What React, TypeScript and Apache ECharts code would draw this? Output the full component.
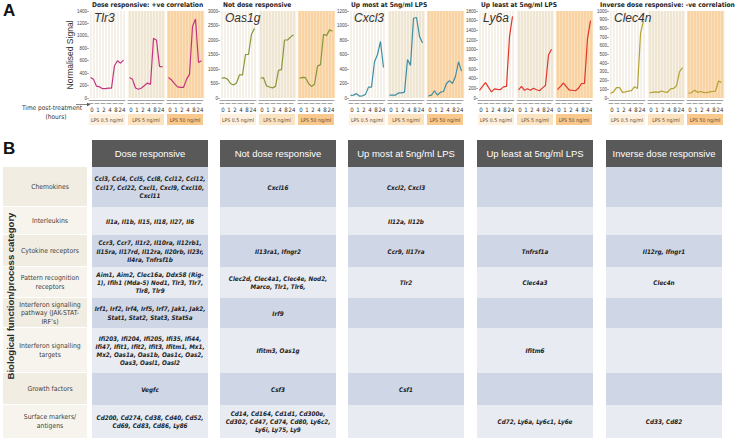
import React, { useEffect, useRef } from 'react';
import * as echarts from 'echarts';

// ---------- Panel A data ----------
const timeLabels = ['0', '1', '2', '4', '8', '24'];
const sampleIds = ['0a', '0b', '1a', '1b', '2a', '2b', '4a', '4b', '8a', '8b', '24a', '24b'];
const doseLabels = ['LPS 0.5 ng/ml', 'LPS 5 ng/ml', 'LPS 50 ng/ml'];
const groupTitles = [
  'Dose responsive: +ve correlation',
  'Not dose responsive',
  'Up most at 5ng/ml LPS',
  'Up least at 5ng/ml LPS',
  'Inverse dose responsive: -ve correlation',
];
const geneNames = ['Tlr3', 'Oas1g', 'Cxcl3', 'Ly6a', 'Clec4n'];
const yMax = [1400, 3000, 1200, 1800, 1000];
const yStep = [200, 500, 200, 200, 100];

const tlr3 = [
  [330, 300, 190, 180, 150, 150, 160, 160, 520, 600, 560, 610],
  [330, 300, 160, 140, 160, 200, 240, 220, 960, 930, 510, 500],
  [330, 290, 230, 180, 170, 170, 300, 380, 1150, 1270, 570, 600],
];
const oas1g = [
  [680, 700, 650, 500, 450, 520, 800, 800, 1500, 1500, 2200, 2400],
  [680, 700, 420, 380, 350, 400, 950, 980, 2000, 2000, 2100, 2180],
  [680, 710, 700, 500, 400, 470, 1100, 1150, 2200, 2150, 2350, 2300],
];
const cxcl3 = [
  [35, 40, 60, 25, 30, 50, 150, 150, 500, 600, 780, 420],
  [40, 40, 40, 70, 70, 80, 530, 450, 1100, 1110, 850, 760],
  [30, 40, 100, 40, 80, 90, 200, 240, 200, 300, 500, 370],
];
const ly6a = [
  [160, 240, 320, 220, 125, 190, 180, 175, 230, 240, 1270, 1690],
  [170, 240, 160, 190, 160, 200, 170, 150, 210, 260, 890, 1010],
  [175, 240, 310, 230, 160, 160, 150, 200, 300, 300, 1230, 1600],
];
const clec4n = [
  [55, 70, 120, 120, 65, 70, 80, 85, 130, 110, 740, 890],
  [60, 65, 70, 65, 80, 70, 65, 105, 110, 140, 300, 350],
  [55, 60, 90, 65, 75, 65, 60, 70, 75, 80, 195, 180],
];
const geneData = [tlr3, oas1g, cxcl3, ly6a, clec4n];

// ---------- Panel B data ----------
const columnHeaders = [
  'Dose responsive',
  'Not dose responsive',
  'Up most at 5ng/ml LPS',
  'Up least at 5ng/ml LPS',
  'Inverse dose responsive',
];
const rowLabels = [
  'Chemokines',
  'Interleukins',
  'Cytokine receptors',
  'Pattern recognition\nreceptors',
  'Interferon signalling\npathway (JAK-STAT-\nIRF\u2019s)',
  'Interferon signalling\ntargets',
  'Growth factors',
  'Surface markers/\nantigens',
];
const doseResponsive = [
  'Ccl3, Ccl4, Ccl5, Ccl8, Ccl12, Ccl12,\nCcl17, Ccl22, Cxcl1, Cxcl9, Cxcl10,\nCxcl11',
  'Il1a, Il1b, Il15, Il18, Il27, Il6',
  'Ccr3, Ccr7, Il1r2, Il10ra, Il12rb1,\nIl15ra, Il17rd, Il12ra, Il20rb, Il23r,\nIl4ra, Tnfrsf1b',
  'Aim1, Aim2, Clec16a, Ddx58 (Rig-\n1), Ifih1 (Mda-5) Nod1, Tlr3, Tlr7,\nTlr8, Tlr9',
  'Irf1, Irf2, Irf4, Irf5, Irf7, Jak1, Jak2,\nStat1, Stat2, Stat3, Stat5a',
  'Ifi203, Ifi204, Ifi205, Ifi35, Ifi44,\nIfi47, Ifit1, Ifit2, Ifit3, Ifitm1, Mx1,\nMx2, Oas1a, Oas1b, Oas1c, Oas2,\nOas3, Oasl1, Oasl2',
  'Vegfc',
  'Cd200, Cd274, Cd38, Cd40, Cd52,\nCd69, Cd83, Cd86, Ly86',
];
const notDoseResponsive = [
  'Cxcl16',
  '',
  'Il13ra1, Ifngr2',
  'Clec2d, Clec4a1, Clec4e, Nod2,\nMarco, Tlr1, Tlr6,',
  'Irf9',
  'Ifitm3, Oas1g',
  'Csf3',
  'Cd14, Cd164, Cd1d1, Cd300e,\nCd302, Cd47, Cd74, Cd80, Ly6c2,\nLy6i, Ly75, Ly9',
];
const upMost5 = ['Cxcl2, Cxcl3', 'Il12a, Il12b', 'Ccr9, Il17ra', 'Tlr2', '', '', 'Csf1', ''];
const upLeast5 = ['', '', 'Tnfrsf1a', 'Clec4a3', '', 'Ifitm6', '', 'Cd72, Ly6a, Ly6c1, Ly6e'];
const inverseDose = ['', '', 'Il12rg, Ifngr1', 'Clec4n', '', '', '', 'Cd33, Cd82'];
const tableColumns = [doseResponsive, notDoseResponsive, upMost5, upLeast5, inverseDose];

// ---------- styling / layout ----------
const SANS = "'Liberation Sans', Arial, sans-serif";
const NARROW = "'Liberation Sans Narrow', 'DejaVu Sans Condensed', Roboto, sans-serif";
const geneColors = ['#c2367f', '#86973a', '#3d8ea3', '#e2352a', '#b3a233'];
const doseBg = ['#f4eee4', '#eee3cf', '#f8d09f'];
const doseLine = ['#ffffff', '#f8f2e8', '#fbe0bd'];
const doseBox = ['#fdf0df', '#fbe2c0', '#f8c88c'];
const groupX = [89, 220, 349, 478, 609];
const SUB_W = 36;
const SUB_GAP = 3;
const PLOT_TOP = 11;
const PLOT_H = 87;

const colX = [92, 220, 348, 477, 606];
const COL_W = 116;
const HEAD_TOP = 140;
const HEAD_BOTTOM = 167;
const rowEdges = [167, 207, 235, 267, 298, 328, 373, 405, 438];

function buildOption() {
  const grids: any[] = [];
  const xAxes: any[] = [];
  const yAxes: any[] = [];
  const series: any[] = [];
  const graphics: any[] = [];

  geneNames.forEach((gene, g) => {
    for (let d = 0; d < 3; d++) {
      const k = g * 3 + d;
      const left = groupX[g] + d * (SUB_W + SUB_GAP);
      grids.push({
        left, top: PLOT_TOP, width: SUB_W, height: PLOT_H,
        show: true, backgroundColor: doseBg[d], borderWidth: 0,
      });
      xAxes.push({
        gridIndex: k, type: 'category', data: sampleIds, boundaryGap: true,
        position: 'bottom', offset: 2,
        axisLine: { show: true, onZero: false, lineStyle: { color: '#8a8a8a', width: 0.8 } },
        axisTick: { show: false }, axisLabel: { show: false },
        splitLine: { show: true, interval: 0, lineStyle: { color: doseLine[d], width: 1.3 } },
      });
      xAxes.push({
        gridIndex: k, type: 'category', data: timeLabels, boundaryGap: true,
        position: 'bottom', offset: 5,
        axisLine: { show: true, onZero: false, lineStyle: { color: '#8a8a8a', width: 0.8, type: [4, 2] } },
        axisTick: { show: false },
        axisLabel: { show: true, interval: 0, fontSize: 6, color: '#333', margin: 3, fontFamily: NARROW },
        splitLine: { show: false },
      });
      yAxes.push({
        gridIndex: k, type: 'value', min: 0, max: yMax[g], interval: yStep[g],
        show: d === 0,
        axisLine: { show: false },
        axisTick: { show: true, length: 2, lineStyle: { color: '#777', width: 0.6 } },
        axisLabel: {
          fontSize: 4.5, color: '#444', margin: 2, fontFamily: SANS,
          formatter: (v: number) => String(v),
        },
        splitLine: { show: false },
      });
      series.push({
        type: 'line', xAxisIndex: 2 * k, yAxisIndex: k, data: geneData[g][d],
        symbol: 'none', silent: true, z: 5,
        lineStyle: { color: geneColors[g], width: 1.2 },
      });
      graphics.push({
        type: 'rect', silent: true,
        shape: { x: left, y: 114, width: SUB_W, height: 11 },
        style: { fill: doseBox[d] },
      });
      graphics.push({
        type: 'text', silent: true, z: 50, x: left + SUB_W / 2, y: 119.5,
        style: {
          text: doseLabels[d], fill: '#6b4a2a', fontSize: 5.2, fontFamily: NARROW,
          align: 'center', verticalAlign: 'middle',
        },
      });
    }
    graphics.push({
      type: 'text', silent: true, z: 100, x: groupX[g] + (g === 2 ? 2 : g === 4 ? -9 : 3), y: 5,
      style: {
        text: groupTitles[g], fill: '#222', fontSize: 6.6, fontWeight: 'bold', fontFamily: NARROW,
        align: 'left', verticalAlign: 'middle',
      },
    });
    graphics.push({
      type: 'text', silent: true, z: 100, x: groupX[g] + 5, y: 18,
      style: {
        text: gene, fill: '#333', fontSize: 12, fontStyle: 'italic', fontFamily: SANS,
        align: 'left', verticalAlign: 'middle',
      },
    });
  });

  // Panel A decorations
  graphics.push(
    { type: 'text', silent: true, x: 3, y: 10, style: { text: 'A', fill: '#111', fontSize: 17, fontWeight: 'bold', fontFamily: SANS, verticalAlign: 'middle' } },
    { type: 'text', silent: true, x: 70, y: 55, rotation: Math.PI / 2,
      style: { text: 'Normalised Signal', fill: '#333', fontSize: 8.5, fontFamily: SANS, align: 'center', verticalAlign: 'middle' } },
    { type: 'text', silent: true, x: 52, y: 108,
      style: { text: 'Time post-treatment', fill: '#333', fontSize: 6.5, fontFamily: NARROW, align: 'center', verticalAlign: 'middle' } },
    { type: 'text', silent: true, x: 56, y: 117,
      style: { text: '(hours)', fill: '#333', fontSize: 6.5, fontFamily: NARROW, align: 'center', verticalAlign: 'middle' } },
    { type: 'line', silent: true, shape: { x1: 76, y1: 104.5, x2: 88, y2: 104.5 }, style: { stroke: '#555', lineWidth: 0.7 } },
    { type: 'polygon', silent: true, shape: { points: [[87, 102.8], [90.5, 104.5], [87, 106.2]] }, style: { fill: '#555' } },
    { type: 'text', silent: true, x: 3, y: 148, style: { text: 'B', fill: '#111', fontSize: 17, fontWeight: 'bold', fontFamily: SANS, verticalAlign: 'middle' } },
  );

  // Panel B table
  rowLabels.forEach((lab, r) => {
    const y0 = rowEdges[r];
    const y1 = rowEdges[r + 1];
    graphics.push({
      type: 'rect', silent: true,
      shape: { x: 3, y: y0, width: 84, height: y1 - y0 - (r < rowLabels.length - 1 ? 1 : 0) },
      style: { fill: r % 2 === 0 ? '#f2ede3' : '#f7f4ee' },
    });
    graphics.push({
      type: 'text', silent: true, z: 50, x: 50, y: (y0 + y1) / 2,
      style: {
        text: lab, fill: '#404040', fontSize: 6.8, fontFamily: NARROW, lineHeight: 8.5,
        align: 'center', verticalAlign: 'middle',
      },
    });
  });
  graphics.push({
    type: 'text', silent: true, z: 50, x: 10.5, y: 296, rotation: Math.PI / 2,
    style: {
      text: 'Biological function/process category', fill: '#2b2b2b', fontSize: 9.5,
      fontWeight: 'bold', fontFamily: SANS, align: 'center', verticalAlign: 'middle',
    },
  });

  tableColumns.forEach((col, c) => {
    const x = colX[c];
    graphics.push({
      type: 'rect', silent: true,
      shape: { x, y: HEAD_TOP, width: COL_W, height: HEAD_BOTTOM - HEAD_TOP },
      style: { fill: '#595959' },
    });
    graphics.push({
      type: 'text', silent: true, z: 50, x: x + COL_W / 2, y: (HEAD_TOP + HEAD_BOTTOM) / 2,
      style: {
        text: columnHeaders[c], fill: '#ffffff', fontSize: 9.5, fontFamily: SANS,
        align: 'center', verticalAlign: 'middle',
      },
    });
    col.forEach((txt, r) => {
      const y0 = rowEdges[r];
      const y1 = rowEdges[r + 1];
      graphics.push({
        type: 'rect', silent: true,
        shape: { x, y: y0, width: COL_W, height: y1 - y0 },
        style: { fill: r % 2 === 0 ? '#cfd6e5' : '#e8ebf2' },
      });
      if (txt) {
        graphics.push({
          type: 'text', silent: true, z: 50, x: x + COL_W / 2, y: (y0 + y1) / 2,
          style: {
            text: txt, fill: '#1c1c1c', fontSize: 6.3, fontWeight: 'bold', fontStyle: 'italic',
            fontFamily: NARROW, lineHeight: 8.3, align: 'center', verticalAlign: 'middle',
          },
        });
      }
    });
  });

  return {
    animation: false,
    backgroundColor: '#ffffff',
    grid: grids,
    xAxis: xAxes,
    yAxis: yAxes,
    series,
    graphic: graphics,
  };
}

export default function App() {
  const ref = useRef<HTMLDivElement>(null);
  useEffect(() => {
    if (!ref.current) return;
    const chart = echarts.init(ref.current, undefined, { renderer: 'svg' });
    chart.setOption(buildOption() as any);
    return () => chart.dispose();
  }, []);
  return (
    <div
      ref={ref}
      style={{ position: 'absolute', left: 0, top: 0, width: 740, height: 439 }}
    />
  );
}
